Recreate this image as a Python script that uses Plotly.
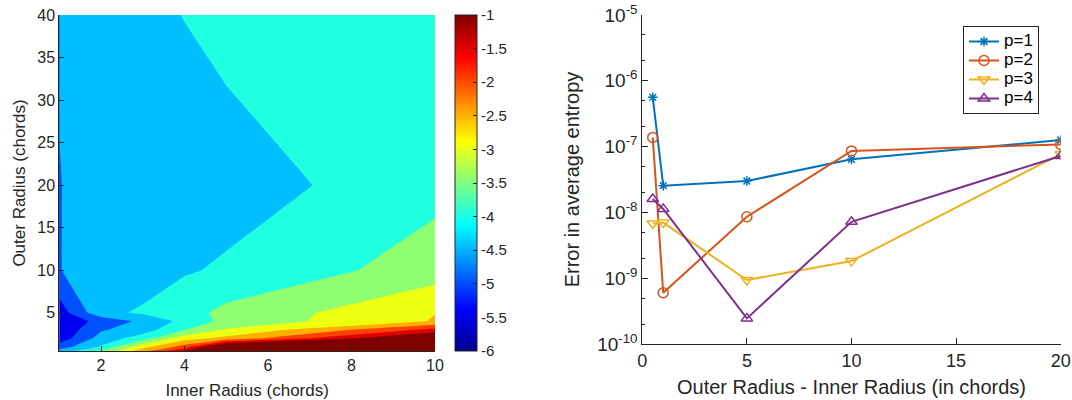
import plotly.graph_objects as go

# ---------------- data: left panel (log10 error on a grid) ----------------
inner_radius = [1, 2, 3, 4, 5, 10]
outer_radius = [0.5, 1, 2, 3, 4, 5, 10, 20, 40]
log_err = [
    [-4.33, -3.44, -2.19, -0.98, 0.30, 0.50],     # 0.5
    [-4.75, -3.95, -2.66, -1.80, 0.10, 0.30],     # 1
    [-5.30, -4.30, -3.75, -2.70, -2.37, -0.20],   # 2
    [-5.40, -4.55, -4.25, -3.52, -2.95, -1.35],   # 3
    [-5.33, -4.86, -4.38, -3.86, -3.34, -2.465],  # 4
    [-5.25, -4.14, -3.925, -3.68, -3.37, -2.51],  # 5
    [-4.505, -4.42, -4.30, -4.05, -3.93, -3.25],  # 10
    [-4.52, -4.20, -4.22, -4.23, -4.24, -3.66],   # 20
    [-4.45, -4.30, -4.10, -3.99, -3.83, -3.60],   # 40
]
cbar_ticks = [-6, -5.5, -5, -4.5, -4, -3.5, -3, -2.5, -2, -1.5, -1]
cbar_labels = ["-6", "-5.5", "-5", "-4.5", "-4", "-3.5", "-3", "-2.5", "-2", "-1.5", "-1"]

# ---------------- data: right panel ----------------
gap = [0.5, 1, 5, 10, 20]
err_p1 = [5.6e-7, 2.55e-8, 3.0e-8, 6.4e-8, 1.26e-7]
err_p2 = [1.38e-7, 6.0e-10, 8.6e-9, 8.6e-8, 1.08e-7]
err_p3 = [6.8e-9, 7.0e-9, 9.4e-10, 1.82e-9, 7.7e-8]
err_p4 = [1.6e-8, 1.13e-8, 2.45e-10, 7.2e-9, 7.2e-8]
series_names = ["p=1", "p=2", "p=3", "p=4"]
y_ticks = [1e-10, 1e-9, 1e-8, 1e-7, 1e-6, 1e-5]
y_ticklabels = ["10<sup>-10</sup>", "10<sup>-9</sup>", "10<sup>-8</sup>",
                "10<sup>-7</sup>", "10<sup>-6</sup>", "10<sup>-5</sup>"]

# ---------------- styles ----------------
FONT = "Liberation Sans, Arial, Helvetica, sans-serif"
AX = "#262626"
# band colours (MATLAB jet(64), lower-level colouring), sampled at k/10
band_colors = ["rgb(0,0,143)", "rgb(0,0,239)", "rgb(0,80,255)", "rgb(0,191,255)",
               "rgb(32,255,223)", "rgb(143,255,112)", "rgb(239,255,16)",
               "rgb(255,175,0)", "rgb(255,64,0)", "rgb(223,0,0)", "rgb(128,0,0)"]
band_scale = [[k / 10, c] for k, c in enumerate(band_colors)]
jet = [[0, "rgb(0,0,143)"], [0.125, "rgb(0,0,255)"], [0.375, "rgb(0,255,255)"],
       [0.625, "rgb(255,255,0)"], [0.875, "rgb(255,0,0)"], [1, "rgb(128,0,0)"]]

W, H = 1072, 400
L_x0, L_x1, L_y0, L_y1 = 59.3, 435, 15, 351
R_x0, R_x1, R_y0, R_y1 = 642.3, 1060.7, 15, 344

fig = go.Figure()
fig.add_trace(go.Contour(
    x=inner_radius, y=outer_radius, z=log_err,
    colorscale=band_scale, autocontour=False,
    contours=dict(start=-5.5, end=-1, size=0.5, coloring="fill", showlines=False),
    line=dict(width=0, smoothing=0), showscale=False, hoverinfo="skip",
    xaxis="x", yaxis="y"))
fig.add_trace(go.Scatter(
    x=[5, 5], y=[20, 20], mode="markers", showlegend=False, hoverinfo="skip",
    xaxis="x", yaxis="y",
    marker=dict(color=[cbar_ticks[0], cbar_ticks[-1]], cmin=-6, cmax=-1,
                colorscale=jet, showscale=True, opacity=0, size=1,
                colorbar=dict(x=455 / W, xanchor="left", y=1 - (L_y0 + L_y1) / 2 / H,
                              yanchor="middle", len=L_y1 - L_y0, lenmode="pixels",
                              thickness=22, thicknessmode="pixels", xpad=0, ypad=0,
                              outlinewidth=1, outlinecolor=AX,
                              tickvals=cbar_ticks, ticktext=cbar_labels,
                              ticks="inside", ticklen=4, tickcolor=AX,
                              tickfont=dict(size=15, color=AX, family=FONT)))))

colors = ["#0072BD", "#D95319", "#EDB120", "#7E2F8E"]
symbols = ["asterisk-open", "circle-open", "triangle-down-open", "triangle-up-open"]
for name, vals, c, s in zip(series_names, [err_p1, err_p2, err_p3, err_p4], colors, symbols):
    fig.add_trace(go.Scatter(
        x=gap, y=vals, name='<span style="font-size:17px">' + name + "</span>",
        mode="lines+markers",
        line=dict(color=c, width=2),
        marker=dict(symbol=s, size=10 if s != "asterisk-open" else 8,
                    color=c, line=dict(color=c, width=1.5)),
        xaxis="x2", yaxis="y2"))

axis_common = dict(showgrid=False, zeroline=False, showline=True, linecolor=AX,
                   linewidth=1, ticks="inside", tickcolor=AX, mirror=False,
                   automargin=False)

fig.update_layout(
    width=W, height=H, margin=dict(l=0, r=0, t=0, b=0, autoexpand=False),
    paper_bgcolor="white", plot_bgcolor="white",
    font=dict(family=FONT, color=AX),
    xaxis=dict(domain=[L_x0 / W, L_x1 / W], range=[1, 10], anchor="y",
               tickvals=[2, 4, 6, 8, 10], ticklen=5,
               tickfont=dict(size=16, color=AX),
               title=dict(text="Inner Radius (chords)", font=dict(size=17, color=AX), standoff=12),
               **axis_common),
    yaxis=dict(domain=[1 - L_y1 / H, 1 - L_y0 / H], range=[0.5, 40], anchor="x",
               tickvals=[5, 10, 15, 20, 25, 30, 35, 40], ticklen=5,
               tickfont=dict(size=16, color=AX),
               title=dict(text="Outer Radius (chords)", font=dict(size=17, color=AX), standoff=7),
               **axis_common),
    xaxis2=dict(domain=[R_x0 / W, R_x1 / W], range=[0, 20], anchor="y2",
                tickvals=[0, 5, 10, 15, 20], ticklen=6,
                tickfont=dict(size=18, color=AX),
                title=dict(text="Outer Radius - Inner Radius (in chords)",
                           font=dict(size=20, color=AX), standoff=10),
                **axis_common),
    yaxis2=dict(domain=[1 - R_y1 / H, 1 - R_y0 / H], type="log", range=[-10, -5],
                anchor="x2", tickvals=y_ticks, ticktext=y_ticklabels, ticklen=6,
                tickfont=dict(size=19, color=AX),
                minor=dict(ticks="inside", ticklen=3, tickcolor=AX),
                title=dict(text="Error in average entropy", font=dict(size=20, color=AX),
                           standoff=12),
                **axis_common),
    legend=dict(x=963 / W, y=1 - 26 / H, xanchor="left", yanchor="top",
                bordercolor=AX, borderwidth=1, bgcolor="white",
                font=dict(size=12, color="black", family=FONT),
                tracegroupgap=0),
    showlegend=True,
)

fig.write_html("out.html")
